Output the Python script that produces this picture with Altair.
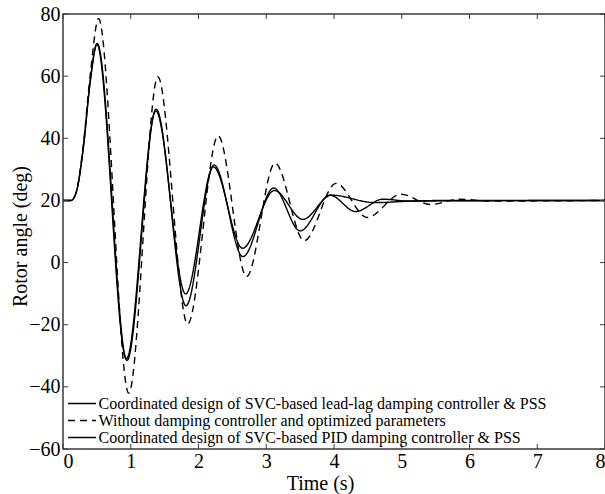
import altair as alt
import pandas as pd

# ---- data ----
series_names = [
    "Coordinated design of SVC-based lead-lag damping controller & PSS",
    "Without damping controller and optimized parameters",
    "Coordinated design of SVC-based PID damping controller & PSS",
]

t_leadlag = [0, 0.12, 0.2, 0.3, 0.4, 0.505, 0.945, 1.375, 1.815, 2.23, 2.655, 3.11, 3.50, 3.94, 4.32, 4.72, 5.1, 5.6, 8.0]
v_leadlag = [20, 20, 23, 37, 58, 70.5, -31.5, 49.4, -13.9, 31.4, 1.9, 24.0, 10.2, 21.7, 16.4, 20.4, 19.8, 20.0, 20.0]

t_without = [0, 0.12, 0.2, 0.3, 0.4, 0.525, 0.97, 1.40, 1.84, 2.29, 2.71, 3.13, 3.56, 4.03, 4.49, 4.99, 5.42, 5.85, 6.3, 8.0]
v_without = [20, 20, 23, 38, 60, 78.5, -42.0, 59.8, -19.8, 40.8, -4.5, 32.0, 7.0, 25.5, 14.5, 22.0, 18.7, 20.4, 19.8, 20.0]

t_pid = [0, 0.12, 0.2, 0.3, 0.4, 0.50, 0.935, 1.37, 1.81, 2.22, 2.65, 3.12, 3.54, 3.96, 4.6, 5.2, 8.0]
v_pid = [20, 20, 23, 37, 58, 70.3, -31.0, 48.8, -10.1, 30.8, 4.6, 23.2, 13.9, 21.7, 19.3, 19.8, 20.0]

x_ticks = [0, 1, 2, 3, 4, 5, 6, 7, 8]
y_ticks = [-60, -40, -20, 0, 20, 40, 60, 80]

rows = []
for name, ts, vs in zip(series_names, [t_leadlag, t_without, t_pid], [v_leadlag, v_without, v_pid]):
    for t, v in zip(ts, vs):
        rows.append({"series": name, "t": t, "v": v})
df = pd.DataFrame(rows)

xt_df = pd.DataFrame({"t": x_ticks})
yt_df = pd.DataFrame({"v": y_ticks})

W, H = 542, 435
FONT = "Liberation Serif"
AX = "#3a3a3a"

xscale = alt.Scale(domain=[0, 8], nice=False, zero=False)
yscale = alt.Scale(domain=[-60, 80], nice=False, zero=False)

lines = alt.Chart(df).mark_line(interpolate="monotone", strokeWidth=1.4, color="black").encode(
    x=alt.X("t:Q", scale=xscale, title="Time (s)",
            axis=alt.Axis(values=x_ticks, format="d", labelPadding=2, titlePadding=2, titleX=257)),
    y=alt.Y("v:Q", scale=yscale, title="Rotor angle (deg)",
            axis=alt.Axis(values=y_ticks, format="d", labelPadding=3, titlePadding=-2, titleY=222)),
    strokeDash=alt.StrokeDash(
        "series:N",
        scale=alt.Scale(domain=series_names, range=[[1, 0], [7, 5], [1, 0]]),
        sort=series_names,
        legend=alt.Legend(
            title=None, orient="none", legendX=10.5, legendY=381, padding=0,
            symbolType="M-1.87,0H1.87", symbolSize=225, symbolStrokeWidth=1.3,
            symbolStrokeColor="black", symbolFillColor="transparent",
            labelFont=FONT, labelFontSize=16,
            labelColor="black", labelOffset=8, rowPadding=0, labelLimit=600,
        ),
    ),
)

tick_bottom = alt.Chart(xt_df).mark_rule(color=AX, strokeWidth=1).encode(
    x=alt.X("t:Q", scale=xscale, title="Time (s)"), y=alt.value(H), y2=alt.value(H - 5))
tick_top = alt.Chart(xt_df).mark_rule(color=AX, strokeWidth=1).encode(
    x=alt.X("t:Q", scale=xscale, title="Time (s)"), y=alt.value(0), y2=alt.value(5))
tick_left = alt.Chart(yt_df).mark_rule(color=AX, strokeWidth=1).encode(
    y=alt.Y("v:Q", scale=yscale, title="Rotor angle (deg)"), x=alt.value(0), x2=alt.value(5))
tick_right = alt.Chart(yt_df).mark_rule(color=AX, strokeWidth=1).encode(
    y=alt.Y("v:Q", scale=yscale, title="Rotor angle (deg)"), x=alt.value(W), x2=alt.value(W - 5))

chart = alt.layer(lines, tick_bottom, tick_top, tick_left, tick_right).properties(
    width=W, height=H,
    autosize=alt.AutoSizeParams(type="none"),
    padding={"left": 63, "top": 14, "right": 0, "bottom": 45},
).configure_view(
    stroke=AX, strokeWidth=1.5
).configure_axis(
    domain=False, grid=False, ticks=False,
    labelFont=FONT, labelFontSize=20, labelColor="black",
    titleFont=FONT, titleFontSize=20, titleFontWeight="normal", titleColor="black",
)

chart.save("out.html", embed_options={"renderer": "svg", "actions": False})
